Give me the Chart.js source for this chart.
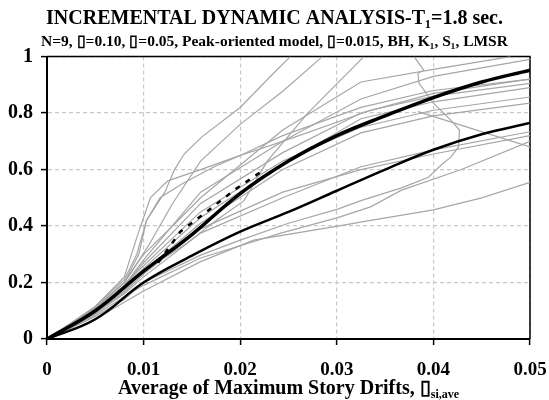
<!DOCTYPE html>
<html>
<head>
<meta charset="utf-8">
<script src="https://cdn.jsdelivr.net/npm/chart.js@4.4.1/dist/chart.umd.min.js"></script>
<style>
  html, body { margin: 0; padding: 0; background: #fff; }
</style>
</head>
<body>
<canvas id="ida" width="549" height="400"></canvas>
<script>
// tick labels
const xTickLabels = ['0', '0.01', '0.02', '0.03', '0.04', '0.05'];
const yTickLabels = ['0', '0.2', '0.4', '0.6', '0.8', '1'];

// IDA curves of the single records: [drift, intensity]
const rec01 = [[0,0],[0.002,0.045],[0.005,0.115],[0.008,0.21],[0.0093,0.3],[0.0103,0.42],[0.0122,0.52],[0.0132,0.6],[0.0142,0.655],[0.016,0.715],[0.02,0.82],[0.0237,0.95],[0.0252,1.0]];
const rec02 = [[0,0],[0.002,0.045],[0.005,0.11],[0.008,0.2],[0.0095,0.3],[0.0103,0.42],[0.0117,0.5],[0.014,0.55],[0.0173,0.61],[0.02,0.65],[0.0244,0.7],[0.0335,0.81],[0.04,0.86],[0.05,0.905]];
const rec03 = [[0,0],[0.002,0.04],[0.005,0.105],[0.008,0.2],[0.0105,0.33],[0.013,0.48],[0.0159,0.63],[0.02,0.76],[0.0245,0.88],[0.0285,1.0]];
const rec04 = [[0,0],[0.002,0.04],[0.005,0.1],[0.008,0.18],[0.01,0.24],[0.0145,0.34],[0.0175,0.42],[0.0204,0.49],[0.0228,0.63],[0.027,0.8],[0.0328,1.0]];
const rec05 = [[0,0],[0.002,0.04],[0.005,0.11],[0.008,0.2],[0.01,0.3],[0.013,0.4],[0.0159,0.5],[0.0244,0.74],[0.0325,0.91],[0.04,0.955],[0.048,1.0]];
const rec06 = [[0,0],[0.002,0.04],[0.005,0.105],[0.008,0.19],[0.01,0.28],[0.0159,0.52],[0.0244,0.7],[0.0325,0.85],[0.04,0.93],[0.05,0.99]];
const rec07 = [[0,0],[0.002,0.04],[0.005,0.1],[0.008,0.19],[0.01,0.27],[0.0159,0.48],[0.0244,0.66],[0.0325,0.8],[0.04,0.87],[0.05,0.92]];
const rec08 = [[0,0],[0.002,0.04],[0.005,0.1],[0.008,0.18],[0.01,0.25],[0.0159,0.43],[0.0244,0.62],[0.0325,0.78],[0.04,0.84],[0.05,0.89]];
const rec09 = [[0,0],[0.002,0.04],[0.005,0.105],[0.008,0.19],[0.01,0.26],[0.0159,0.45],[0.0244,0.63],[0.0325,0.75],[0.04,0.81],[0.05,0.857]];
const rec10 = [[0,0],[0.002,0.035],[0.005,0.095],[0.008,0.17],[0.01,0.24],[0.0159,0.41],[0.0244,0.6],[0.0325,0.73],[0.04,0.79],[0.05,0.835]];
const rec11 = [[0,0],[0.002,0.035],[0.005,0.09],[0.008,0.16],[0.01,0.22],[0.0159,0.375],[0.0244,0.5],[0.0325,0.61],[0.04,0.67],[0.05,0.734]];
const rec12 = [[0,0],[0.002,0.035],[0.005,0.09],[0.008,0.165],[0.01,0.23],[0.0159,0.39],[0.0244,0.52],[0.0325,0.6],[0.04,0.655],[0.05,0.72]];
const rec13 = [[0,0],[0.002,0.03],[0.005,0.085],[0.008,0.15],[0.01,0.19],[0.0159,0.287],[0.0242,0.375],[0.0301,0.43],[0.0335,0.468],[0.0367,0.527],[0.0429,0.6],[0.05,0.7]];
const rec14 = [[0,0],[0.002,0.025],[0.005,0.07],[0.008,0.13],[0.01,0.17],[0.0159,0.274],[0.0214,0.35],[0.0301,0.4],[0.0335,0.42],[0.04,0.457],[0.045,0.5],[0.05,0.555],[0.054,0.6],[0.05,0.68],[0.0384,0.805]];
const rec15 = [[0,0],[0.002,0.03],[0.005,0.08],[0.008,0.14],[0.01,0.2],[0.0159,0.297],[0.02,0.35],[0.025,0.41],[0.0301,0.46],[0.0325,0.49],[0.0367,0.535],[0.0395,0.573],[0.0408,0.616],[0.0418,0.644],[0.0426,0.68],[0.0427,0.74],[0.0418,0.775],[0.04,0.835],[0.0385,0.906],[0.0384,0.94],[0.039,0.952],[0.038,1.0]];
const rec16 = [[0,0],[0.002,0.045],[0.005,0.115],[0.008,0.22],[0.0093,0.36],[0.0107,0.5],[0.0125,0.56],[0.0159,0.6],[0.02,0.65],[0.0244,0.72],[0.0325,0.82],[0.04,0.88],[0.05,0.92]];
const greyCurves = [rec01, rec02, rec03, rec04, rec05, rec06, rec07, rec08, rec09, rec10, rec11, rec12, rec13, rec14, rec15, rec16];

// summarised curves
const upperCurve = [[0,0],[0.005,0.1],[0.01,0.24],[0.015,0.37],[0.02,0.515],[0.025,0.63],[0.03,0.72],[0.035,0.79],[0.04,0.855],[0.045,0.91],[0.05,0.952]];
const lowerCurve = [[0,0],[0.005,0.07],[0.01,0.2],[0.015,0.295],[0.02,0.38],[0.025,0.45],[0.03,0.525],[0.035,0.6],[0.04,0.67],[0.045,0.725],[0.05,0.765]];
const dashedCurve = [[0.0115,0.27],[0.0138,0.38],[0.0165,0.45],[0.0195,0.53],[0.0225,0.6]];

const toPoints = arr => arr.map(([x, y]) => ({ x: x, y: y }));
const serif = 'Liberation Serif, Times New Roman, serif';

const datasets = [
    {
        data: toPoints(dashedCurve),
        borderColor: '#000',
        borderWidth: 2.5,
        borderDash: [5, 7],
        pointRadius: 0,
        clip: 0
    },
    {
        data: toPoints(upperCurve),
        borderColor: '#000',
        borderWidth: 3.5,
        tension: 0.4,
        pointRadius: 0,
        clip: 0
    },
    {
        data: toPoints(lowerCurve),
        borderColor: '#000',
        borderWidth: 2.5,
        tension: 0.4,
        pointRadius: 0,
        clip: 0
    }
];
greyCurves.forEach(rec => {
    datasets.push({
        data: toPoints(rec),
        borderColor: '#a6a6a6',
        borderWidth: 1.2,
        pointRadius: 0,
        clip: 0
    });
});

// top and right frame of the plot area
const framePlugin = {
    id: 'frame',
    beforeDatasetsDraw(chart) {
        const { ctx, chartArea: a } = chart;
        ctx.save();
        ctx.strokeStyle = '#000';
        ctx.lineWidth = 1.5;
        ctx.beginPath();
        ctx.moveTo(a.left, a.top);
        ctx.lineTo(a.right, a.top);
        ctx.lineTo(a.right, a.bottom);
        ctx.stroke();
        ctx.restore();
    }
};

// x axis title with subscript
const xTitlePlugin = {
    id: 'xTitle',
    afterDraw(chart) {
        const { ctx, chartArea: a } = chart;
        const main = 'Average of Maximum Story Drifts, \u25AF';
        const sub = 'si,ave';
        ctx.save();
        ctx.fillStyle = '#000';
        ctx.textBaseline = 'alphabetic';
        ctx.font = 'bold 20px ' + serif;
        const w1 = ctx.measureText(main).width;
        ctx.font = 'bold 12px ' + serif;
        const w2 = ctx.measureText(sub).width;
        let x = (a.left + a.right) / 2 - (w1 + w2) / 2;
        ctx.font = 'bold 20px ' + serif;
        ctx.fillText(main, x, 394);
        ctx.font = 'bold 12px ' + serif;
        ctx.fillText(sub, x + w1, 398);
        ctx.restore();
    }
};

new Chart(document.getElementById('ida'), {
    type: 'line',
    data: { datasets: datasets },
    options: {
        responsive: false,
        animation: false,
        layout: { padding: { left: 0, right: 0, top: 0, bottom: 0 } },
        plugins: {
            legend: { display: false },
            tooltip: { enabled: false },
            title: {
                display: true,
                text: 'INCREMENTAL DYNAMIC ANALYSIS-T\u2081=1.8 sec.',
                color: '#000',
                font: { family: serif, size: 20, weight: 'bold' },
                padding: { top: 7, bottom: 1 }
            },
            subtitle: {
                display: true,
                text: 'N=9, \u25AF=0.10, \u25AF=0.05, Peak-oriented model, \u25AF=0.015, BH, K\u2081, S\u2081, LMSR',
                color: '#000',
                font: { family: serif, size: 15.5, weight: 'bold' },
                padding: { top: 1, bottom: 5 }
            }
        },
        scales: {
            x: {
                type: 'linear',
                min: 0,
                max: 0.05,
                afterFit: s => { s.height = 61; s.paddingRight = 19; },
                ticks: {
                    stepSize: 0.01,
                    color: '#000',
                    padding: 14,
                    maxRotation: 0,
                    font: { family: serif, size: 19, weight: 'bold' },
                    callback: (v, i) => xTickLabels[i]
                },
                grid: {
                    color: '#c8c8c8',
                    lineWidth: 1.2,
                    tickColor: '#000',
                    tickLength: 6,
                    tickWidth: 1.5,
                    tickBorderDash: []
                },
                border: { color: '#000', width: 2, dash: [4, 3] }
            },
            y: {
                min: 0,
                max: 1,
                afterFit: s => { s.width = 47; },
                ticks: {
                    stepSize: 0.2,
                    color: '#000',
                    padding: 8,
                    font: { family: serif, size: 20, weight: 'bold' },
                    callback: (v, i) => yTickLabels[i]
                },
                grid: {
                    color: '#c8c8c8',
                    lineWidth: 1.2,
                    tickColor: '#000',
                    tickLength: 6,
                    tickWidth: 1.5,
                    tickBorderDash: []
                },
                border: { color: '#000', width: 2, dash: [4, 3] }
            }
        }
    },
    plugins: [framePlugin, xTitlePlugin]
});
</script>
</body>
</html>
